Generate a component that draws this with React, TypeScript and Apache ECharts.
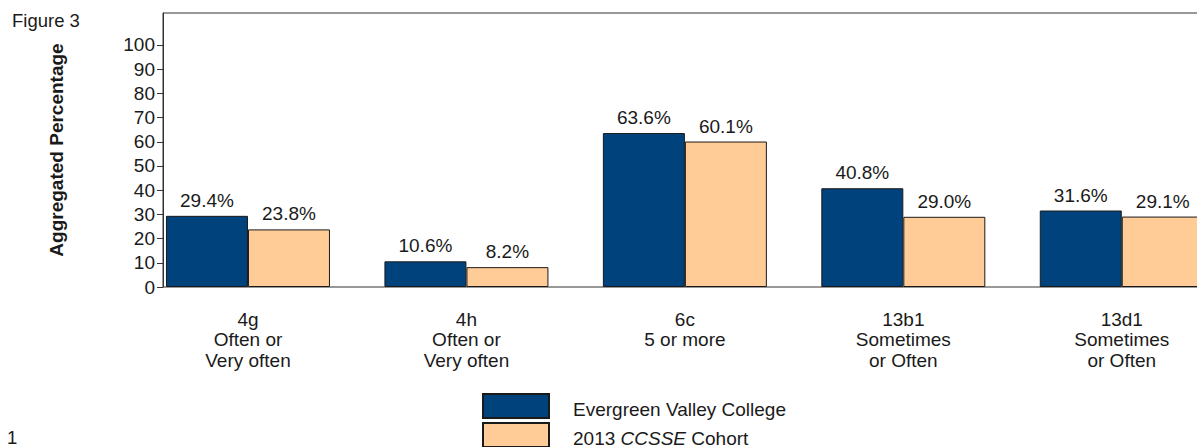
import React, { useEffect, useRef } from "react";
import * as echarts from "echarts";

const categories = [
  "4g\nOften or\nVery often",
  "4h\nOften or\nVery often",
  "6c\n5 or more",
  "13b1\nSometimes\nor Often",
  "13d1\nSometimes\nor Often",
];
const collegeValues = [29.4, 10.6, 63.6, 40.8, 31.6];
const cohortValues = [23.8, 8.2, 60.1, 29.0, 29.1];
const yTickValues = [0, 10, 20, 30, 40, 50, 60, 70, 80, 90, 100];
const seriesNames = ["Evergreen Valley College", "2013 CCSSE Cohort"];

const FONT = "'Liberation Sans', Arial, Helvetica, sans-serif";
const TEXT = "#1a1a1a";

export default function App() {
  const ref = useRef<HTMLDivElement>(null);

  useEffect(() => {
    if (!ref.current) return;
    const chart = echarts.init(ref.current, undefined, { renderer: "svg" });
    const barLabel = {
      show: true,
      position: "top",
      distance: 6,
      fontSize: 19,
      fontFamily: FONT,
      color: TEXT,
      formatter: (p: any) => Number(p.value).toFixed(1) + "%",
    };
    const legendBase = {
      orient: "vertical",
      left: 482,
      padding: 0,
      itemWidth: 66,
      itemHeight: 24,
      icon: "rect",
      selectedMode: false,
      formatter: (name: string) =>
        name === seriesNames[1] ? "{n|2013 }{i|CCSSE}{n| Cohort}" : "{n|" + name + "}",
      textStyle: {
        fontSize: 19,
        color: TEXT,
        fontFamily: FONT,
        padding: [6, 0, 0, 19],
        rich: {
          n: { fontSize: 19, color: TEXT, fontFamily: FONT },
          i: { fontSize: 19, color: TEXT, fontFamily: FONT, fontStyle: "italic" },
        },
      },
    };
    chart.setOption({
      animation: false,
      backgroundColor: "#ffffff",
      textStyle: { fontFamily: FONT },
      grid: { left: 138.75, right: 0, top: 13, bottom: 160, containLabel: false },
      xAxis: {
        type: "category",
        data: categories,
        axisLine: { show: false },
        axisTick: { show: false },
        axisLabel: {
          interval: 0,
          margin: 22,
          fontSize: 19,
          lineHeight: 20.5,
          color: TEXT,
          fontFamily: FONT,
          align: "center",
        },
      },
      yAxis: {
        type: "value",
        min: 0,
        max: 113.2,
        interval: 10,
        offset: -24.25,
        splitLine: { show: false },
        axisLine: { show: true, lineStyle: { color: "#333", width: 1 } },
        axisTick: {
          show: true,
          length: 6,
          customValues: yTickValues,
          lineStyle: { color: "#333", width: 1 },
        },
        axisLabel: {
          customValues: yTickValues,
          margin: 8,
          fontSize: 19,
          color: TEXT,
          fontFamily: FONT,
        },
      },
      legend: [
        { ...legendBase, top: 393, data: [seriesNames[0]] },
        { ...legendBase, top: 422, data: [seriesNames[1]] },
      ],
      graphic: [
        {
          type: "rect",
          z: 0,
          shape: { x: 163, y: 13, width: 1200, height: 274 },
          style: { fill: "none", stroke: "#333", lineWidth: 1 },
          silent: true,
        },
        {
          type: "text",
          x: 12,
          y: 20.5,
          style: {
            text: "Figure 3",
            fontSize: 18.5,
            fontFamily: FONT,
            fill: TEXT,
            verticalAlign: "middle",
          },
        },
        {
          type: "text",
          x: 56,
          y: 150,
          rotation: Math.PI / 2,
          style: {
            text: "Aggregated Percentage",
            fontSize: 19,
            fontWeight: "bold",
            fontFamily: FONT,
            fill: TEXT,
            align: "center",
            verticalAlign: "middle",
          },
        },
        {
          type: "text",
          x: 7,
          y: 437,
          style: {
            text: "1",
            fontSize: 18.5,
            fontFamily: FONT,
            fill: TEXT,
            verticalAlign: "middle",
          },
        },
      ],
      series: [
        {
          name: seriesNames[0],
          type: "bar",
          data: collegeValues,
          barWidth: 82,
          barGap: "0%",
          itemStyle: { color: "#00427B", borderColor: "#1a1a1a", borderWidth: 1 },
          label: barLabel,
        },
        {
          name: seriesNames[1],
          type: "bar",
          data: cohortValues,
          barWidth: 82,
          barGap: "0%",
          itemStyle: { color: "#FFCB96", borderColor: "#1a1a1a", borderWidth: 1 },
          label: barLabel,
        },
      ],
    });
    return () => chart.dispose();
  }, []);

  return (
    <div
      style={{
        position: "absolute",
        left: 0,
        top: 0,
        width: 1197,
        height: 447,
        overflow: "hidden",
      }}
    >
      <div ref={ref} style={{ width: 1231.25, height: 447 }} />
    </div>
  );
}
